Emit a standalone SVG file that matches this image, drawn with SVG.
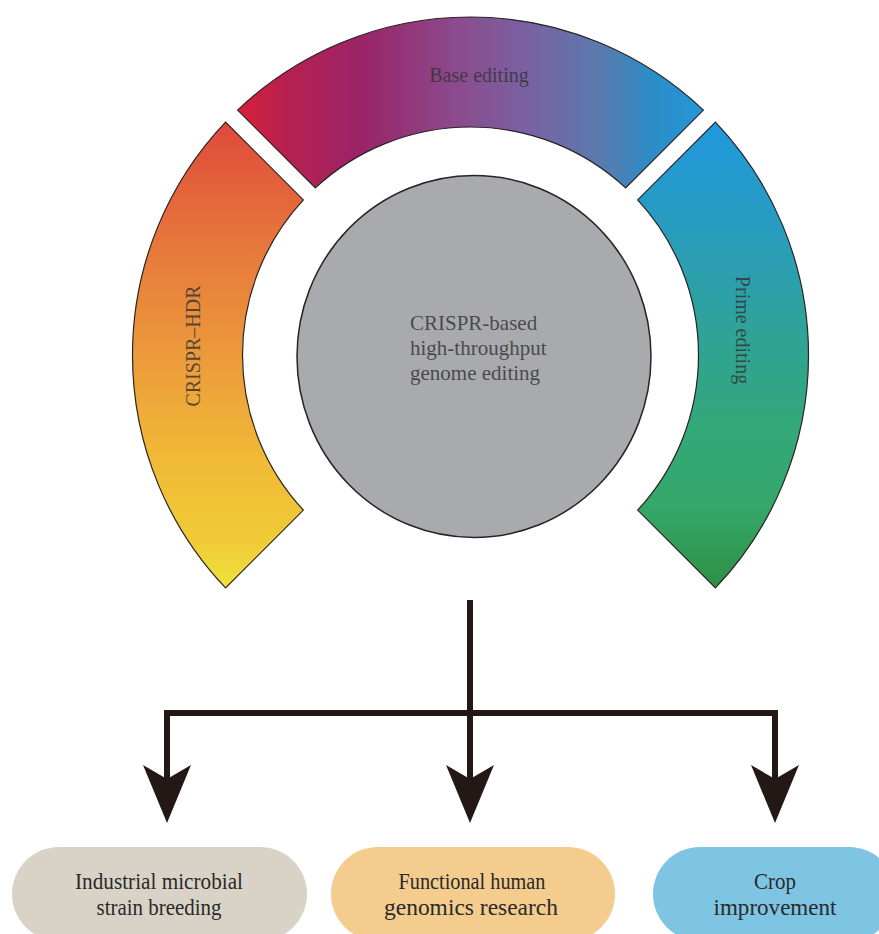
<svg xmlns="http://www.w3.org/2000/svg" width="879" height="934" viewBox="0 0 879 934">
<defs>
<style>
.seg{stroke:#2b2222;stroke-width:1.2}
.lbl{font-family:"Liberation Serif","Times New Roman",serif;font-size:20px;fill:#333;fill-opacity:.82}
.ctr{font-family:"Liberation Serif","Times New Roman",serif;font-size:21px;fill:#333;fill-opacity:.82}
.box{font-family:"Liberation Serif","Times New Roman",serif;font-size:23px;fill:#2a2a2a;text-anchor:middle}
.conn{fill:none;stroke:#231815;stroke-width:6;stroke-linejoin:miter;stroke-linecap:butt}
.head{fill:#231815}
</style>
<linearGradient id="gTop" x1="237.6" y1="0" x2="703.4" y2="0" gradientUnits="userSpaceOnUse">
<stop offset="0" stop-color="#d8203a"/>
<stop offset="0.1" stop-color="#b72050"/>
<stop offset="0.27" stop-color="#9a2468"/>
<stop offset="0.48" stop-color="#8a4d8f"/>
<stop offset="0.63" stop-color="#7862a2"/>
<stop offset="0.78" stop-color="#5a7aae"/>
<stop offset="0.885" stop-color="#2d8cc5"/>
<stop offset="1" stop-color="#2397d8"/>
</linearGradient>
<linearGradient id="gLeft" x1="0" y1="122" x2="0" y2="588" gradientUnits="userSpaceOnUse">
<stop offset="0" stop-color="#df4a3b"/>
<stop offset="0.27" stop-color="#e6783b"/>
<stop offset="0.5" stop-color="#ec9a3b"/>
<stop offset="0.72" stop-color="#f0b936"/>
<stop offset="0.9" stop-color="#f0cb37"/>
<stop offset="1" stop-color="#eee43b"/>
</linearGradient>
<linearGradient id="gRight" x1="0" y1="122" x2="0" y2="588" gradientUnits="userSpaceOnUse">
<stop offset="0" stop-color="#1f98dd"/>
<stop offset="0.27" stop-color="#2a9db8"/>
<stop offset="0.45" stop-color="#2fa398"/>
<stop offset="0.65" stop-color="#33a87a"/>
<stop offset="0.82" stop-color="#35a86a"/>
<stop offset="1" stop-color="#2e8f46"/>
</linearGradient>
</defs>
<rect width="879" height="934" fill="#ffffff"/>

<g id="base-editing">
<path class="seg" fill="url(#gTop)" d="M237.58,110.06 A338,338 0 0 1 703.42,110.06 L625.60,187.88 A228,228 0 0 0 315.40,187.88 Z"/>
<text class="lbl" x="479" y="82" text-anchor="middle">Base editing</text>
</g>

<g id="crispr-hdr">
<path class="seg" fill="url(#gLeft)" d="M225.56,122.08 A338,338 0 0 0 225.56,587.92 L303.38,510.10 A228,228 0 0 1 303.38,199.90 Z"/>
<text class="lbl" transform="translate(200,346) rotate(-90)" text-anchor="middle">CRISPR–HDR</text>
</g>

<g id="prime-editing">
<path class="seg" fill="url(#gRight)" d="M715.44,122.08 A338,338 0 0 1 715.44,587.92 L637.62,510.10 A228,228 0 0 0 637.62,199.90 Z"/>
<text class="lbl" transform="translate(736,330) rotate(90)" text-anchor="middle">Prime editing</text>
</g>

<g id="center">
<ellipse cx="474" cy="356.5" rx="177" ry="181" fill="#a8aaad" stroke="#2b2222" stroke-width="1.5"/>
<text class="ctr" x="410" y="330">CRISPR-based</text>
<text class="ctr" x="410" y="355">high-throughput</text>
<text class="ctr" x="410" y="380">genome editing</text>
</g>

<g id="connectors">
<path class="conn" d="M470,600 V780"/>
<path class="conn" d="M167,782 V713 H775 V782"/>
<path class="head" d="M143,765 L167,823 L191,765 L167,779 Z"/>
<path class="head" d="M446,765 L470,823 L494,765 L470,779 Z"/>
<path class="head" d="M751,765 L775,823 L799,765 L775,779 Z"/>
</g>

<g id="industrial">
<rect x="12" y="847" width="295" height="94" rx="47" ry="47" fill="#d9d3c7"/>
<text class="box" x="159" y="889" textLength="168" lengthAdjust="spacingAndGlyphs">Industrial microbial</text>
<text class="box" x="159" y="915" textLength="125" lengthAdjust="spacingAndGlyphs">strain breeding</text>
</g>

<g id="functional">
<rect x="331" y="847" width="284" height="94" rx="47" ry="47" fill="#f3cc8e"/>
<text class="box" x="472" y="889" textLength="147" lengthAdjust="spacingAndGlyphs">Functional human</text>
<text class="box" x="471" y="915" textLength="174" lengthAdjust="spacingAndGlyphs">genomics research</text>
</g>

<g id="crop">
<rect x="653" y="847" width="243" height="94" rx="47" ry="47" fill="#7ec5e4"/>
<text class="box" x="775" y="889" textLength="42" lengthAdjust="spacingAndGlyphs">Crop</text>
<text class="box" x="775" y="915" textLength="123" lengthAdjust="spacingAndGlyphs">improvement</text>
</g>
</svg>
